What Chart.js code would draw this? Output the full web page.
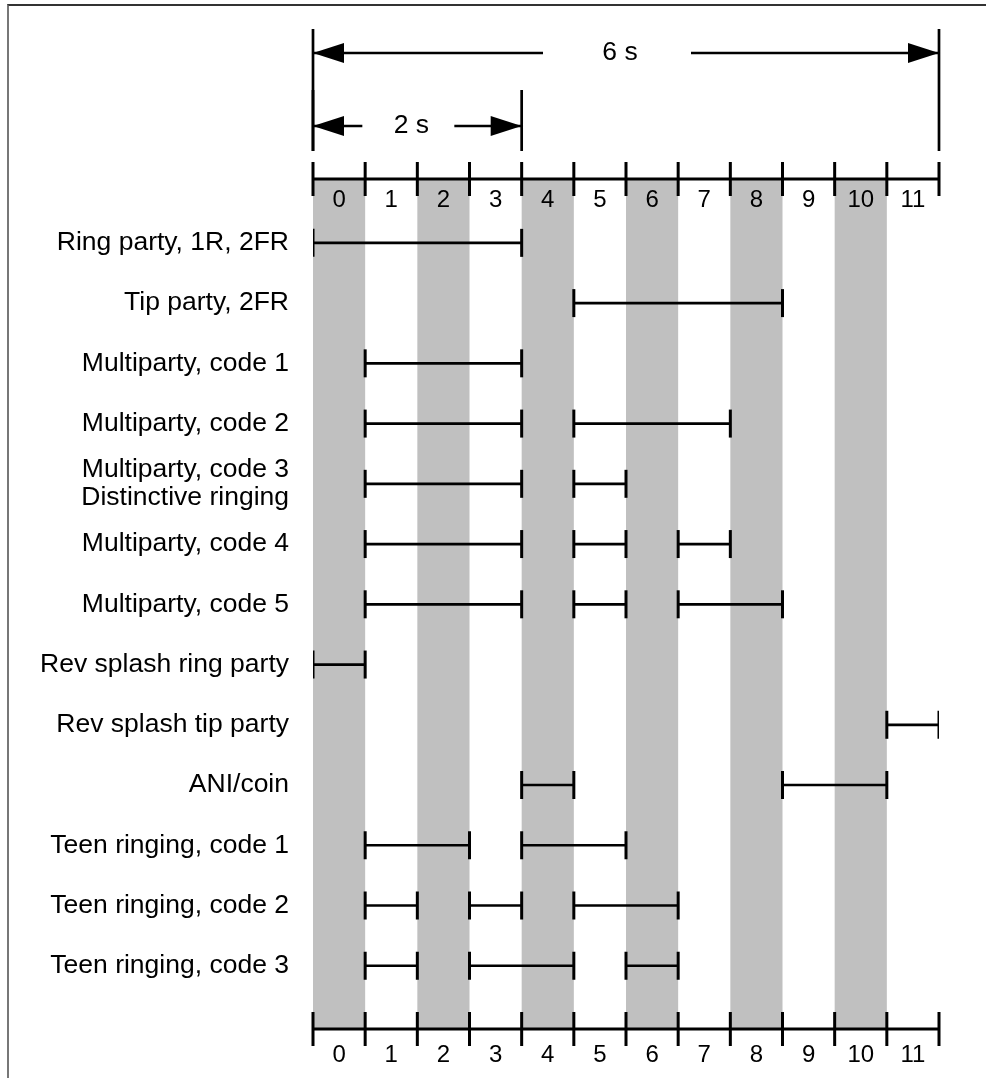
<!DOCTYPE html>
<html>
<head>
<meta charset="utf-8">
<title>Ringing codes timing</title>
<script src="https://cdn.jsdelivr.net/npm/chart.js@4.4.1/dist/chart.umd.min.js"></script>
<style>
  html, body { margin: 0; padding: 0; background: #fff; }
  #wrap { position: relative; width: 986px; height: 1078px; }
  #frame { position: absolute; left: 7px; top: 4px; right: 0; bottom: 0;
           border-top: 2px solid #333; border-left: 2px solid #777; pointer-events: none; }
</style>
</head>
<body>
<div id="wrap">
  <canvas id="timingChart"></canvas>
  <div id="frame"></div>
</div>
<script>
var rowLabels = [
    'Ring party, 1R, 2FR',
    'Tip party, 2FR',
    'Multiparty, code 1',
    'Multiparty, code 2',
    ['Multiparty, code 3', 'Distinctive ringing'],
    'Multiparty, code 4',
    'Multiparty, code 5',
    'Rev splash ring party',
    'Rev splash tip party',
    'ANI/coin',
    'Teen ringing, code 1',
    'Teen ringing, code 2',
    'Teen ringing, code 3'
];

// on periods per row, as [start slot, end slot]
var rowSegments = [
    [[0, 4]],
    [[5, 9]],
    [[1, 4]],
    [[1, 4], [5, 8]],
    [[1, 4], [5, 6]],
    [[1, 4], [5, 6], [7, 8]],
    [[1, 4], [5, 6], [7, 9]],
    [[0, 1]],
    [[11, 12]],
    [[4, 5], [9, 11]],
    [[1, 3], [4, 6]],
    [[1, 2], [3, 4], [5, 7]],
    [[1, 2], [3, 5], [6, 7]]
];

var slotLabels = ['0', '1', '2', '3', '4', '5', '6', '7', '8', '9', '10', '11'];
var shadedSlots = [0, 2, 4, 6, 8, 10];

var spanLabels = ['6 s', '2 s'];
var spanFrom = [0, 0];
var spanTo = [12, 4];

var FONT = "'Liberation Sans', Arial, Helvetica, sans-serif";

var datasets = [];
rowSegments.forEach(function(segs, row) {
    segs.forEach(function(seg) {
        datasets.push({
            data: [{x: seg[0], y: row}, {x: seg[1], y: row}],
            showLine: true,
            borderColor: '#000',
            borderWidth: 2.7,
            pointStyle: 'line',
            rotation: 90,
            pointRadius: 14,
            pointHoverRadius: 14,
            pointBorderWidth: 3,
            pointBorderColor: '#000',
            pointBackgroundColor: '#000'
        });
    });
});

function drawSlotAxis(ctx, x, y, labelY) {
    var n = slotLabels.length;
    ctx.lineWidth = 3;
    ctx.beginPath();
    ctx.moveTo(x.getPixelForValue(0), y);
    ctx.lineTo(x.getPixelForValue(n), y);
    for (var i = 0; i <= n; i++) {
        var px = x.getPixelForValue(i);
        ctx.moveTo(px, y - 17);
        ctx.lineTo(px, y + 17);
    }
    ctx.stroke();
    ctx.font = '24px ' + FONT;
    ctx.textAlign = 'center';
    ctx.textBaseline = 'middle';
    for (var j = 0; j < n; j++) {
        var mid = (x.getPixelForValue(j) + x.getPixelForValue(j + 1)) / 2;
        ctx.fillText(slotLabels[j], mid, labelY);
    }
}

function arrowHead(ctx, tipX, y, dir) {
    ctx.beginPath();
    ctx.moveTo(tipX, y);
    ctx.lineTo(tipX + dir * 31, y - 10);
    ctx.lineTo(tipX + dir * 31, y + 10);
    ctx.closePath();
    ctx.fill();
}

var timingDecor = {
    id: 'timingDecor',
    beforeDatasetsDraw: function(chart) {
        var ctx = chart.ctx, a = chart.chartArea, x = chart.scales.x;
        ctx.save();
        ctx.fillStyle = '#c0c0c0';
        shadedSlots.forEach(function(s) {
            var l = x.getPixelForValue(s), r = x.getPixelForValue(s + 1);
            ctx.fillRect(l, a.top, r - l, a.bottom - a.top);
        });
        ctx.restore();
    },
    afterDraw: function(chart) {
        var ctx = chart.ctx, a = chart.chartArea, x = chart.scales.x;
        ctx.save();
        ctx.strokeStyle = '#000';
        ctx.fillStyle = '#000';
        drawSlotAxis(ctx, x, a.top, a.top + 21);
        drawSlotAxis(ctx, x, a.bottom, a.bottom + 26);

        // dimension arrows above the top axis
        var arrowY = [53, 126], extTop = [29, 90], extBottom = 151, gapHalf = [74, 46];
        ctx.font = '26.5px ' + FONT;
        ctx.textAlign = 'center';
        ctx.textBaseline = 'middle';
        spanLabels.forEach(function(label, k) {
            var x0 = x.getPixelForValue(spanFrom[k]);
            var x1 = x.getPixelForValue(spanTo[k]);
            var y = arrowY[k];
            var mid = (x0 + x1) / 2 - 9;
            ctx.lineWidth = 2.7;
            ctx.beginPath();
            ctx.moveTo(x0, extTop[k]); ctx.lineTo(x0, extBottom);
            ctx.moveTo(x1, extTop[k]); ctx.lineTo(x1, extBottom);
            ctx.moveTo(x0, y); ctx.lineTo(mid - gapHalf[k], y);
            ctx.moveTo(mid + gapHalf[k], y); ctx.lineTo(x1, y);
            ctx.stroke();
            arrowHead(ctx, x0, y, 1);
            arrowHead(ctx, x1, y, -1);
            ctx.fillText(label, mid + 3, y);
        });
        ctx.restore();
    }
};

var config = {
    type: 'scatter',
    data: { datasets: datasets },
    options: {
        responsive: true,
        maintainAspectRatio: false,
        animation: false,
        events: [],
        layout: { padding: { top: 179, bottom: 49, right: 47, left: 0 } },
        plugins: {
            legend: { display: false },
            tooltip: { enabled: false }
        },
        scales: {
            x: { type: 'linear', min: 0, max: slotLabels.length, display: false },
            y: {
                type: 'linear',
                reverse: true,
                min: -1.06,
                max: rowLabels.length + 0.05,
                afterBuildTicks: function(scale) {
                    scale.ticks = rowLabels.map(function(_, i) { return {value: i}; });
                },
                afterFit: function(scale) { scale.width = 313; },
                grid: { display: false, drawTicks: false },
                border: { display: false },
                ticks: {
                    autoSkip: false,
                    padding: 24,
                    color: '#000',
                    font: { family: FONT, size: 26.5, lineHeight: 1.08 },
                    callback: function(v) { return rowLabels[v]; }
                }
            }
        }
    },
    plugins: [timingDecor]
};

window.onload = function() {
    var ctx = document.getElementById('timingChart').getContext('2d');
    window.timingChart = new Chart(ctx, config);
};
</script>
</body>
</html>
